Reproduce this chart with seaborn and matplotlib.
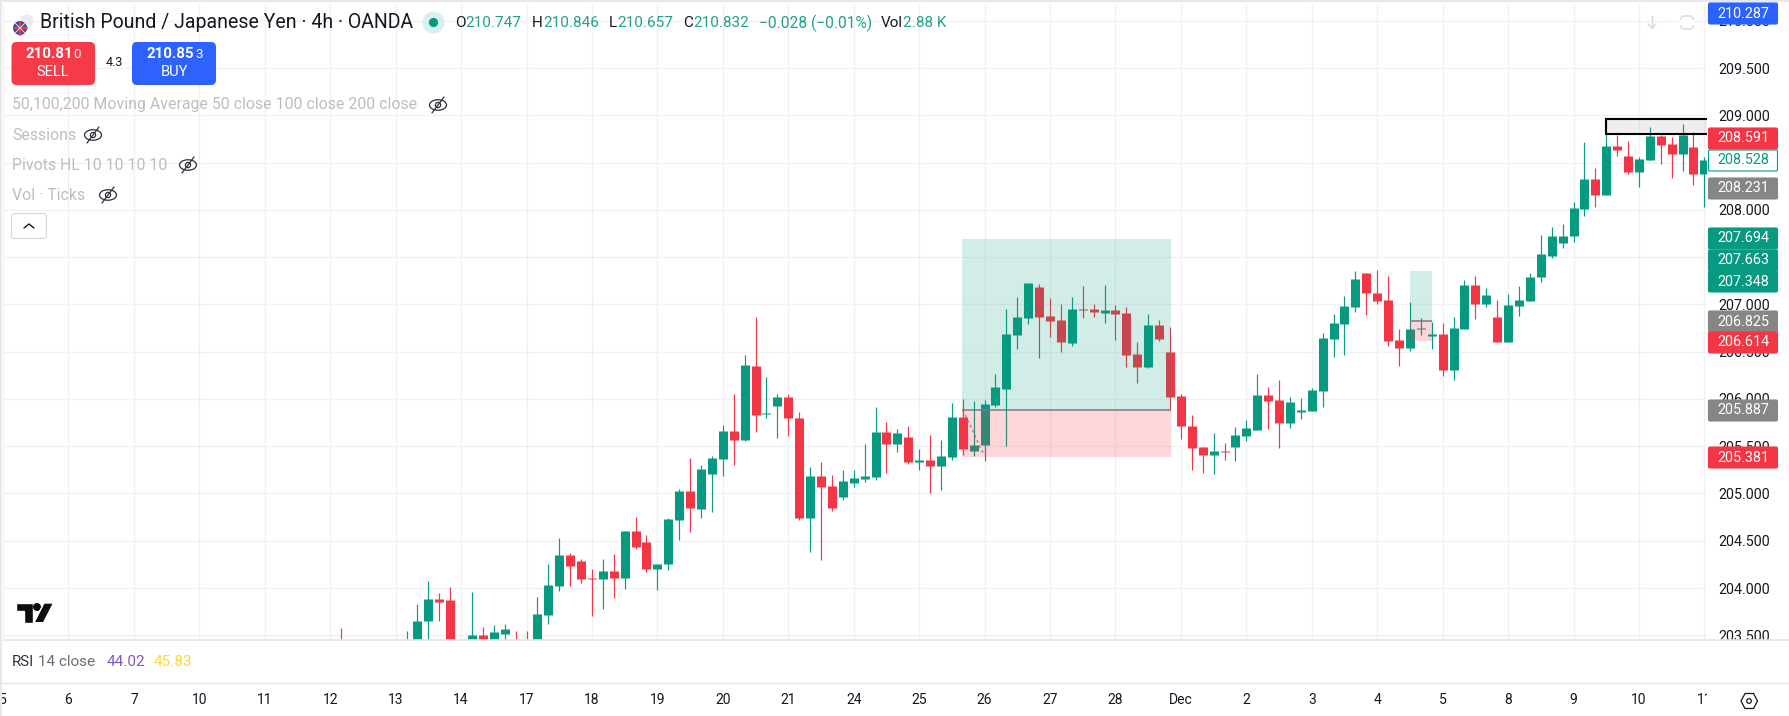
import numpy as np
import pandas as pd
import matplotlib
matplotlib.use("Agg")
import matplotlib.pyplot as plt
from matplotlib.patches import Rectangle, FancyBboxPatch, Circle, Ellipse, Polygon
import seaborn as sns

# candles (bar number = 6 bars per trading day, label "5" is bar 0)
bar_no = [31] + list(range(37, 42)) + list(range(43, 157))
opens = [203.40,
         203.2, 203.3, 203.651, 203.884, 203.873,
         203.3, 203.503, 203.35, 203.514, 203.4, 203.4, 203.4, 203.715, 204.021, 204.349, 204.286, 204.106,
         204.095, 204.18, 204.106, 204.603, 204.487, 204.201, 204.254, 204.719, 205.026, 204.836, 205.206, 205.367,
         205.663, 205.568, 206.35, 205.842, 205.927, 206.022, 205.8, 204.743, 205.187, 205.081, 204.965, 205.113,
         205.155, 205.176, 205.652, 205.525, 205.599, 205.335, 205.356, 205.293, 205.388, 205.811, 205.451, 205.515,
         205.938, 206.107, 206.678, 206.858, 207.186, 206.879, 206.837, 206.593, 206.953, 206.953, 206.911, 206.942,
         206.911, 206.477, 206.34, 206.784, 206.498, 206.033, 205.716, 205.49, 205.405, 205.448, 205.49, 205.606,
         205.67, 206.04, 205.987, 205.744, 205.86, 205.871, 206.082, 206.632, 206.791, 206.97, 207.33, 207.119,
         207.045, 206.622, 206.537, 206.738, 206.664, 206.685, 206.304, 206.738, 207.203, 207.002, 206.865, 206.6,
         206.981, 207.034, 207.288, 207.51, 207.647, 207.722, 208.007, 208.324, 208.155, 208.673, 208.568, 208.398,
         208.525, 208.779, 208.694, 208.589, 208.663, 208.377]
highs = [203.58,
         203.545, 203.831, 204.074, 203.947, 204.011,
         203.958, 203.588, 203.609, 203.619, 203.545, 203.545, 203.905, 204.254, 204.529, 204.37, 204.307, 204.201,
         204.307, 204.36, 204.603, 204.751, 204.561, 204.254, 204.74, 205.047, 205.375, 205.301, 205.396, 205.726,
         206.054, 206.466, 206.868, 206.234, 206.054, 206.054, 205.864, 205.282, 205.335, 205.197, 205.25, 205.25,
         205.525, 205.917, 205.758, 205.684, 205.716, 205.472, 205.62, 205.568, 205.959, 206.001, 205.98, 205.991,
         206.265, 206.953, 207.08, 207.228, 207.217, 207.069, 207.006, 207.08, 207.196, 207.006, 207.207, 206.995,
         206.974, 206.604, 206.9, 206.837, 206.763, 206.054, 205.832, 205.49, 205.638, 205.532, 205.701, 205.776,
         206.262, 206.124, 206.199, 206.019, 206.008, 206.114, 206.696, 206.896, 207.087, 207.351, 207.33, 207.362,
         207.298, 206.738, 207.023, 206.854, 206.812, 206.801, 206.865, 207.256, 207.298, 207.171, 207.045, 207.108,
         207.193, 207.33, 207.732, 207.817, 207.848, 208.081, 208.716, 208.441, 208.948, 208.79, 208.726, 208.557,
         208.874, 208.79, 208.768, 208.906, 208.821, 208.557]
lows = [203.2,
        203.1, 203.25, 203.4, 203.651, 203.2,
        203.25, 203.3, 203.3, 203.4, 203.2, 203.2, 203.3, 203.619, 203.968, 204.021, 204.053, 203.704,
        203.778, 203.894, 203.99, 204.413, 204.169, 203.979, 204.191, 204.508, 204.592, 204.74, 204.804, 205.187,
        205.303, 205.557, 205.652, 205.8, 205.589, 205.61, 204.722, 204.381, 204.296, 204.817, 204.933, 205.071,
        205.123, 205.145, 205.219, 205.441, 205.314, 205.25, 205.007, 205.039, 205.356, 205.409, 205.398, 205.345,
        205.917, 205.504, 206.53, 206.794, 206.435, 206.657, 206.498, 206.562, 206.858, 206.868, 206.805, 206.625,
        206.34, 206.17, 206.329, 206.614, 205.895, 205.578, 205.25, 205.215, 205.204, 205.353, 205.342, 205.553,
        205.67, 205.68, 205.479, 205.691, 205.786, 205.871, 205.913, 206.442, 206.463, 206.918, 206.886, 207.002,
        206.558, 206.347, 206.505, 206.674, 206.526, 206.241, 206.199, 206.738, 206.844, 206.97, 206.6, 206.6,
        206.875, 207.034, 207.235, 207.489, 207.595, 207.658, 207.933, 208.028, 208.155, 208.568, 208.377, 208.24,
        208.525, 208.483, 208.335, 208.409, 208.261, 208.028]
closes = [203.30,
          203.4, 203.651, 203.884, 203.852, 203.3,
          203.503, 203.35, 203.535, 203.567, 203.3, 203.3, 203.725, 204.032, 204.349, 204.233, 204.095, 204.095,
          204.18, 204.106, 204.603, 204.434, 204.201, 204.254, 204.73, 205.026, 204.846, 205.259, 205.375, 205.663,
          205.568, 206.361, 205.832, 205.853, 206.022, 205.8, 204.743, 205.187, 205.071, 204.848, 205.134, 205.166,
          205.187, 205.652, 205.525, 205.642, 205.335, 205.356, 205.293, 205.398, 205.811, 205.472, 205.515, 205.948,
          206.128, 206.688, 206.868, 207.228, 206.868, 206.826, 206.604, 206.953, 206.942, 206.921, 206.942, 206.9,
          206.466, 206.34, 206.784, 206.636, 206.022, 205.716, 205.483, 205.405, 205.448, 205.437, 205.617, 205.691,
          206.04, 205.976, 205.744, 205.966, 205.881, 206.093, 206.643, 206.801, 206.981, 207.267, 207.119, 207.034,
          206.611, 206.537, 206.738, 206.748, 206.685, 206.304, 206.748, 207.203, 207.002, 207.097, 206.6, 206.992,
          207.045, 207.288, 207.531, 207.722, 207.722, 208.018, 208.324, 208.155, 208.673, 208.631, 208.398, 208.536,
          208.779, 208.684, 208.589, 208.79, 208.377, 208.525]

day_labels = ["5", "6", "7", "10", "11", "12", "13", "14", "17", "18", "19", "20", "21", "24", "25", "26", "27",
              "28", "Dec", "2", "3", "4", "5", "8", "9", "10", "11"]
price_ticks = [203.5, 204.0, 204.5, 205.0, 205.5, 206.0, 206.5, 207.0, 207.5, 208.0, 208.5, 209.0, 209.5, 210.0]
price_labels = ["203.500", "204.000", "204.500", "205.000", "205.500", "206.000", "206.500", "207.000", "",
                "208.000", "", "209.000", "209.500", "210.000"]

# long position drawings: bar from, bar to, target, entry, stop
trade_big = [87.94, 107.07, 207.694, 205.887, 205.381]
trade_small = [128.98, 131.03, 207.348, 206.825, 206.614]
zone_bars = [146.96, 160]
zone_prices = [208.807, 208.962]
arrow_bars = [88.0, 88.9, 89.3, 89.7, 90.05]
arrow_prices = [205.883, 205.67, 205.565, 205.46, 205.407]

tag_values = ["210.287", "208.591", "208.528", "208.231", "207.694", "207.663", "207.348",
              "206.825", "206.614", "205.887", "205.381"]
tag_colors = ["#2962ff", "#f23645", "#ffffff", "#868686", "#089981", "#089981", "#089981",
              "#868686", "#f23645", "#868686", "#f23645"]
tag_y = [13.5, 138.5, 160.5, 188.5, 238.5, 260.5, 281.5, 321.5, 342.5, 410.5, 457.5]

UP, DOWN = "#089981", "#f23645"
W, H = 1789, 716

sns.set_theme(style="white")
plt.rcParams["font.family"] = ["Roboto", "DejaVu Sans"]
plt.rcParams["text.color"] = "#131722"

df = pd.DataFrame({"bar": bar_no, "open": opens, "high": highs, "low": lows, "close": closes})
df["side"] = np.where(df["close"] >= df["open"], "up", "down")
wicks = df.melt(id_vars=["bar", "side"], value_vars=["high", "low"], value_name="price")
bodies = df.melt(id_vars=["bar", "side"], value_vars=["open", "close"], value_name="price")
palette = {"up": UP, "down": DOWN}

fig = plt.figure(figsize=(W / 100, H / 100), dpi=100, facecolor="white")

# main pane, pixels 3..1707 across and 4..640 down
ax = fig.add_axes([3 / W, 1 - 640 / H, 1704 / W, 636 / H], zorder=1)
sns.lineplot(data=wicks, x="bar", y="price", hue="side", units="bar", estimator=None, palette=palette,
             linewidth=0.85, legend=False, ax=ax, solid_capstyle="butt")
sns.lineplot(data=bodies, x="bar", y="price", hue="side", units="bar", estimator=None, palette=palette,
             linewidth=6.5, legend=False, ax=ax, solid_capstyle="butt")

for left, right, target, entry, stop in [trade_big, trade_small]:
    ax.add_patch(Rectangle((left, entry), right - left, target - entry, fc=UP, ec="none", alpha=0.18, zorder=4))
    ax.add_patch(Rectangle((left, stop), right - left, entry - stop, fc=DOWN, ec="none", alpha=0.2, zorder=4))
    ax.plot([left, right], [entry, entry], color="#787b86", lw=1.1, zorder=5, solid_capstyle="butt")
ax.plot(arrow_bars, arrow_prices, color="#787b86", lw=1, ls=(0, (2, 2)), alpha=0.8, zorder=5)
ax.add_patch(Rectangle((zone_bars[0], zone_prices[0]), zone_bars[1] - zone_bars[0], zone_prices[1] - zone_prices[0],
                       fc="#787b86", alpha=0.12, ec="none", zorder=4))
ax.add_patch(Rectangle((zone_bars[0], zone_prices[0]), zone_bars[1] - zone_bars[0], zone_prices[1] - zone_prices[0],
                       fc="none", ec="black", lw=1.5, zorder=5))

ax.set_xlim(0.03, 156.24)
ax.set_ylim(203.45, 210.177)
ax.set_xlabel("")
ax.set_ylabel("")
ax.set_xticks(np.arange(0, 157, 6))
ax.set_xticklabels(day_labels)
ax.set_yticks(price_ticks)
ax.set_yticklabels(price_labels)
ax.yaxis.tick_right()
ax.tick_params(axis="y", length=0, pad=8, labelsize=10.3, labelcolor="#131722")
ax.tick_params(axis="x", length=0, pad=38, labelsize=10, labelcolor="#131722")
ax.grid(True, color="#f0f1f3", lw=1)
ax.set_axisbelow(True)
for s in ax.spines.values():
    s.set_visible(False)

# everything around the chart, in pixels
ui = fig.add_axes([0, 0, 1, 1], zorder=5)
ui.set_xlim(0, W)
ui.set_ylim(H, 0)
ui.axis("off")
ui.patch.set_alpha(0)

# masks cut the labels the way the panes do
ui.add_patch(Rectangle((0, 640), W, 43, fc="white", ec="none"))
ui.add_patch(Rectangle((1707, 683), 82, 33, fc="white", ec="none"))
ui.add_patch(Rectangle((0, 0), 2, H, fc="#e8e8e8", ec="none"))
ui.add_patch(Rectangle((0, 0), W, 2, fc="#e8e8e8", ec="none"))
ui.plot([0, W], [640, 640], color="#e6e6e6", lw=1.2)
ui.plot([0, W], [683, 683], color="#e6e6e6", lw=1)


def txt(x, y, s, size=10, color="#131722", ha="left", weight="normal"):
    ui.text(x, y, s, fontsize=size, color=color, ha=ha, va="center", fontweight=weight)


def eye(x, y):
    ui.add_patch(Ellipse((x, y), 17, 10.5, fc="none", ec="#2a2e39", lw=0.9))
    ui.add_patch(Circle((x, y), 2.6, fc="none", ec="#2a2e39", lw=0.9))
    ui.plot([x - 6, x + 6], [y + 8, y - 8], color="#2a2e39", lw=0.9)


# header
ui.add_patch(Circle((27, 21), 6.5, fc="#f1e9ee", ec="none"))
ui.add_patch(Circle((20, 28), 7, fc="#2f4f9e", ec="none"))
ui.plot([13.5, 26.5], [28, 28], color="#f23645", lw=1.6)
ui.plot([20, 20], [21.5, 34.5], color="#f23645", lw=1.6)
ui.plot([15, 25], [23, 33], color="#f3c6cc", lw=0.8)
ui.plot([15, 25], [33, 23], color="#f3c6cc", lw=0.8)
txt(39.5, 23, "British Pound / Japanese Yen · 4h · OANDA", size=14.05)
ui.add_patch(Circle((433.5, 22.5), 11, fc="#daf0ec", ec="none"))
ui.add_patch(Circle((433.5, 22.5), 4.6, fc=UP, ec="none"))
for x, head, val in [(455, "O", "210.747"), (532, "H", "210.846"), (609, "L", "210.657"), (683, "C", "210.832")]:
    ui.annotate(val, xy=(1, 0.5), xycoords=ui.text(x, 23, head, fontsize=11, va="center"), va="center",
                fontsize=11, color="#22a08c")
txt(759, 23, "−0.028 (−0.01%)", size=11.2, color="#22a08c")
ui.annotate("2.88 K", xy=(1, 0.5), xycoords=ui.text(881, 23, "Vol", fontsize=11, va="center"), va="center",
            fontsize=11, color="#22a08c")

# sell / buy buttons
for x0, x1, col in [(11.5, 95, "#f53a4a"), (132, 216, "#2d62ff")]:
    ui.add_patch(FancyBboxPatch((x0, 42), x1 - x0, 43, boxstyle="round,pad=0,rounding_size=5", fc=col, ec="none"))
txt(25, 54, "210.81", size=10.8, color="white", weight="bold")
txt(73, 54, "0", size=9.6, color="white")
txt(53, 72, "SELL", size=10.5, color="white", ha="center")
txt(146.5, 54, "210.85", size=10.8, color="white", weight="bold")
txt(195, 54, "3", size=9.6, color="white")
txt(174, 72, "BUY", size=10.5, color="white", ha="center")
txt(114, 62, "4.3", size=9, ha="center")

# indicator rows
txt(12, 105, "50,100,200 Moving Average 50 close 100 close 200 close", size=11.45, color="#bdbdbd")
eye(438, 105)
txt(12, 135, "Sessions", size=11.45, color="#bdbdbd")
eye(93, 135)
txt(12, 165, "Pivots HL 10 10 10 10", size=11.45, color="#bdbdbd")
eye(188, 165)
txt(12, 195, "Vol · Ticks", size=11.45, color="#bdbdbd")
eye(108, 195)
ui.add_patch(FancyBboxPatch((11.5, 213.5), 35, 25, boxstyle="round,pad=0,rounding_size=3", fc="white",
                            ec="#d6d6d6", lw=0.8))
ui.plot([24, 29, 34], [228, 224, 228], color="#131722", lw=1)

# top right buttons
ui.plot([1652, 1652], [16, 28], color="#d8d8d8", lw=1)
ui.plot([1648, 1652, 1656], [24, 28, 24], color="#d8d8d8", lw=1)
ui.add_patch(FancyBboxPatch((1681, 16), 12, 13, boxstyle="round,pad=0,rounding_size=3", fc="none", ec="#d8d8d8", lw=1))
ui.add_patch(Rectangle((1679, 20), 16, 5, fc="white", ec="none"))

# price tags
for val, col, y in zip(tag_values, tag_colors, tag_y):
    ec = UP if col == "#ffffff" else col
    ui.add_patch(FancyBboxPatch((1708.5, y - 10.5), 69, 21, boxstyle="round,pad=0,rounding_size=1.5", fc=col, ec=ec,
                                lw=0.8))
    txt(1743.5, y, val, size=10.4, color=UP if col == "#ffffff" else "white", ha="center")

# tv logo
ui.add_patch(Polygon([(16, 603), (32.5, 603), (32.5, 622.7), (24, 622.7), (24, 610.7), (16, 610.7)], fc="#0d0d0d"))
ui.add_patch(Circle((37, 607), 4, fc="#0d0d0d", ec="none"))
ui.add_patch(Polygon([(44, 603), (53.6, 603), (43.5, 622.7), (34, 622.7)], fc="#0d0d0d"))

# rsi pane
txt(12, 661.5, "RSI", size=10.8, color="#2a2e39")
txt(38, 661.5, "14 close", size=11, color="#6a6d78")
txt(107, 661.5, "44.02", size=11, color="#7e57c2")
txt(154, 661.5, "45.83", size=11, color="#fdd835")

# settings hexagon
ui.add_patch(Polygon([(1741, 701), (1745, 693.5), (1753.5, 693.5), (1757.5, 701), (1753.5, 708.5), (1745, 708.5)],
                     fc="none", ec="#131722", lw=0.9))
ui.add_patch(Circle((1749, 701), 2.3, fc="none", ec="#131722", lw=0.9))

plt.savefig("out.png", dpi=100)
